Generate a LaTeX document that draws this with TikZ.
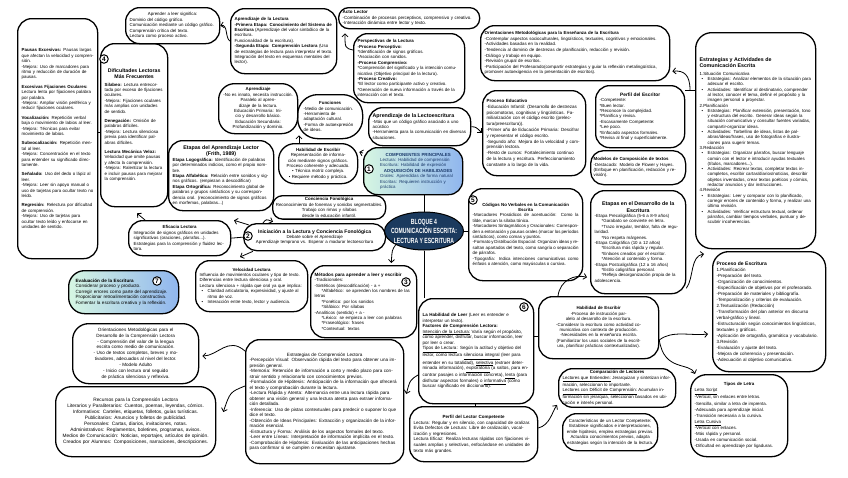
\documentclass[tikz,border=0pt]{standalone}
\usepackage{fontspec}
\setmainfont{Liberation Sans}
\usepackage{graphicx}
\usetikzlibrary{arrows.meta,shapes.geometric,calc}
\definecolor{navyb}{HTML}{1B3A5E}
\definecolor{mintc}{HTML}{D6F6E2}
\definecolor{skyc}{HTML}{90B6EE}
\definecolor{dtext}{HTML}{1B3A6B}
\newcommand{\mytxt}{\fontsize{4.4}{5.4}\selectfont}
\newcommand{\myfs}[2]{\fontsize{#1}{#2}\selectfont}
\newcommand{\ctr}[1]{{\centering #1\par}}
\newcommand{\pgap}{\par\vspace{4pt}}
\newcommand{\bul}[1]{\par{\hangindent=8pt\hangafter=1\noindent\hbox to 8pt{\hskip2pt\textbullet\hfil}#1\par}}
\newcommand{\myind}{\hspace*{7pt}}
\begin{document}
\begin{tikzpicture}[x=1pt,y=-1pt,
 bx/.style={draw, line width=1.3pt, rounded corners=11pt, inner xsep=4pt, inner ysep=2pt, font=\mytxt, align=left, anchor=north west},
 arr/.style={-{Straight Barb[length=3pt,width=6pt]}, line width=0.8pt},
 lnk/.style={line width=0.8pt},
 numc/.style={circle, draw, line width=1pt, fill=white, inner sep=0pt, minimum size=8.5pt, font=\myfs{6.5}{6.5}\bfseries},
]
\fill[white] (0,0) rectangle (848,477);
\useasboundingbox (0,0) rectangle (848,477);

% ---------- left column ----------
\node[bx, text width=86pt, minimum height=36pt, rounded corners=14pt] (aprender) at (125,7) {\ctr{Aprender a leer significa:}Dominio del código gráfico.\par Comunicación mediante un código gráfico.\par Comprensión crítica del texto.\par Lectura como proceso activo.};

\node[bx, text width=72pt, minimum height=240pt, rounded corners=14pt] (pausas) at (17,18) {\textbf{Pausas Excesivas:} Pausas largas que afectan la velocidad y comprensión.\par -Mejora: Uso de marcadores para ritmo y reducción de duración de pausas.\pgap
\textbf{Excesivas Fijaciones Oculares:} Lectura lenta por fijaciones palabra por palabra.\par -Mejora: Ampliar visión periférica y reducir fijaciones oculares.\pgap
\textbf{Vocalización:} Repetición verbal baja o movimiento de labios al leer.\par -Mejora: Técnicas para evitar movimiento de labios.\pgap
\textbf{Subvocalización:} Repetición mental al leer.\par -Mejora: Concentración en el texto para entender su significado directamente.\pgap
\textbf{Señalado:} Uso del dedo o lápiz al leer.\par -Mejora: Leer sin apoyo manual o uso de tarjetas para ocultar texto no leído.\pgap
\textbf{Regresión:} Relectura por dificultad de comprensión.\par -Mejora: Uso de tarjetas para ocultar texto leído y enfocarse en unidades de sentido.};

\node[bx, text width=59pt, minimum height=163pt, rounded corners=14pt] (dificultades) at (100,43) {\ctr{\myfs{5.2}{6}\bfseries Dificultades Lectoras\\Más Frecuentes}\vspace{2pt}
\textbf{Silabeo:} Lectura entrecortada por exceso de fijaciones oculares.\par -Mejora: Fijaciones oculares más amplias con unidades de sentido.\pgap
\textbf{Denegación:} Omisión de palabras difíciles.\par -Mejora: Lectura silenciosa previa para identificar palabras difíciles.\pgap
\textbf{Lectura Mecánica Veloz:} Velocidad que omite pausas y afecta la comprensión.\par -Mejora: Ralentizar la lectura e incluir pausas para mejorar la comprensión.};

\node[bx, text width=97pt, minimum height=70pt, rounded corners=14pt] (etapaslector) at (168,140) {\ctr{\myfs{5.3}{6.2}\bfseries Etapas del Aprendizaje Lector\\(Frith, 1989)}
\textbf{Etapa Logográfica:} Identificación de palabras por determinados indicios, como el propio nombre.\par
\textbf{Etapa Alfabética:} Relación entre sonidos y signos gráficos. (empiezan a descodificar)\par
\textbf{Etapa Ortográfica:} Reconocimiento global de palabras y grupos sintácticos y su correspondencia oral. (reconocimiento de signos gráficos en morfemas, palabras...)};

\node[bx, text width=92pt, inner xsep=5pt, minimum height=35pt, rounded corners=14pt] (eficacia) at (128,220) {\ctr{\textbf{Eficacia Lectora}}Integración de signos gráficos en unidades significativas (oraciones, párrafos...).\par Estrategias para la comprensión y fluidez lectora.};

\node[bx, text width=96pt, inner xsep=7pt, minimum height=43pt, rounded corners=16pt, left color=mintc, right color=skyc, font=\myfs{4.6}{5.6}] (evaluacion) at (68,270) {\textbf{Evaluación de la Escritura}\par Considerar proceso y producto.\par Corregir errores como parte del aprendizaje.\par Proporcionar retroalimentación constructiva.\par Fomentar la escritura creativa y la reflexión.};

\node[bx, text width=100pt, inner xsep=13pt, minimum height=60pt, rounded corners=16pt, align=center, font=\myfs{4.6}{5.9}] (orientlect) at (72,323) {Orientaciones Metodológicas para el Desarrollo de la Comprensión Lectora\par - Comprensión del valor de la lengua escrita como medio de comunicación.\par - Uso de textos completos, breves y motivadores, adecuados al nivel del lector.\par - Modelo Adulto\par - Inicio con lectura oral seguido de práctica silenciosa y reflexiva.};

\node[bx, text width=150pt, inner xsep=5pt, minimum height=70pt, rounded corners=16pt, align=center, font=\myfs{4.8}{6}] (recursos) at (55,386) {Recursos para la Comprensión Lectora\par Literarios y Paraliterarios: Cuentos, poemas, leyendas, cómics.\par Informativos: Carteles, etiquetas, folletos, guías turísticas.\par Publicitarios: Anuncios y folletos de publicidad.\par Personales: Cartas, diarios, invitaciones, notas.\par Administrativos: Reglamentos, boletines, programas, avisos.\par Medios de Comunicación: Noticias, reportajes, artículos de opinión.\par Creados por Alumnos: Composiciones, narraciones, descripciones.};

% ---------- centre-left ----------
\node[bx, text width=98pt, minimum height=65pt, rounded corners=14pt] (aprlectura) at (230,8) {\textbf{Aprendizaje de la Lectura}\par \textbf{-Primera Etapa: Conocimiento del Sistema de Escritura} (Aprendizaje del valor simbólico de la escritura.\par Funcionalidad de la escritura).\par \textbf{-Segunda Etapa: Comprensión Lectora} (Uso de estrategias de lectura para interpretar el texto.\par Integración del texto en esquemas mentales del lector).};

\node[bx, text width=71pt, minimum height=50pt, rounded corners=16pt, align=center] (aprendizaje) at (218,83) {\textbf{Aprendizaje}\par -No es innato, necesita instrucción.\par Paralelo al aprendizaje de la lectura.\par Educación Primaria: Inicio y desarrollo básico.\par Educación Secundaria: Profundización y dominio.};

\node[bx, text width=53pt, inner xsep=6pt, minimum height=44pt, rounded corners=20pt] (funciones) at (297,94) {\ctr{\textbf{Funciones}}-Medio de comunicación.\par -Herramienta de adaptación cultural.\par -Forma de autoexpresión de ideas.};

\node[bx, text width=71pt, minimum height=40pt, rounded corners=16pt, align=center] (habesc1) at (278,143) {\textbf{Habilidad de Escribir}\par Representación de información mediante signos gráficos.\par Proceso coherente y adecuado.\par \textbullet\ Técnica motriz compleja.\par \textbullet\ Requiere método y práctica.};

\node[bx, text width=107pt, inner xsep=3pt, minimum height=21pt, rounded corners=10pt, align=center] (conciencia) at (272,195) {\textbf{Conciencia Fonológica}\par Reconocimiento de fonemas y sonidos segmentables.\par Trabajo con rimas y sílabas desde la educación infantil.};

\node[bx, text width=130pt, inner xsep=6pt, minimum height=27pt, rounded corners=13pt, align=center] (iniciacion) at (243,223) {{\myfs{5}{6}\bfseries Iniciación a la Lectura y Conciencia Fonológica}\par Debate sobre el Aprendizaje\par Aprendizaje temprano vs. Esperar a madurar lectoescritura};

\node[bx, text width=104pt, minimum height=51pt, rounded corners=14pt] (velocidad) at (195,260) {\ctr{\textbf{Velocidad Lectora}}Influencia de movimientos oculares y tipo de texto.\par Diferencias entre lectura silenciosa y oral.\par Lectura silenciosa + rápida que oral ya que implica:\bul{Claridad articulatoria, expresividad, y ajuste al ritmo de voz.}\bul{Interacción entre texto, lector y audiencia.}};

\node[bx, text width=98pt, minimum height=72pt, rounded corners=14pt] (metodos) at (310,265) {{\myfs{4.6}{5.6}\bfseries Métodos para aprender a leer y escribir\par}-Tradicionales:\par -Sintéticos (descodificación) - a +\par \myind*Alfabético: se aprenden los nombres de las letras\par \myind*Fonético: por los sonidos\par \myind*Silábico: Por sílabas\par -Analíticos (sentido) + a -\par \myind*Léxico: se empieza a leer con palabras\par \myind*Fraseológico: frases\par \myind*Contextual: textos};

\node[bx, text width=150pt, minimum height=124pt, rounded corners=14pt, font=\myfs{4.6}{5.5}] (estrcomp) at (245,339) {\ctr{Estrategias de Comprensión Lectora}-Percepción Visual: Observación rápida del texto para obtener una impresión general.\par -Memoria: Retención de información a corto y medio plazo para construir sentido y relacionarlo con conocimientos previos.\par -Formulación de Hipótesis: Anticipación de la información que ofrecerá el texto y comprobación durante la lectura.\par -Lectura Rápida y Atenta: Alternancia entre una lectura rápida para obtener una visión general y una lectura atenta para extraer información detallada.\par -Inferencia: Uso de pistas contextuales para predecir o suponer lo que dice el texto.\par -Obtención de Ideas Principales: Extracción y organización de la información esencial.\par -Estructura y Forma: Análisis de los aspectos formales del texto.\par -Leer entre Líneas: Interpretación de información implícita en el texto.\par -Comprobación de Hipótesis: Evaluación de las anticipaciones hechas para confirmar si se cumplen o necesitan ajustarse.};

% ---------- centre ----------
\node[bx, text width=133pt, minimum height=21pt, rounded corners=10pt, font=\myfs{4.5}{5.4}] (acto) at (338,7) {\textbf{Acto Lector}\par -Combinación de procesos perceptivos, comprensivo y creativo.\par -Interacción dinámica entre lector y texto.};

\node[bx, text width=103pt, minimum height=69pt, rounded corners=14pt] (perspectivas) at (353,33) {\textbf{Perspectivas de la Lectura}\par \textbf{-Proceso Perceptivo:}\par *Identificación de signos gráficos.\par *Asociación con sonidos.\par \textbf{-Proceso Comprensivo:}\par *Comprensión del significado y la intención comunicativa (Objetivo principal de la lectura).\par \textbf{-Proceso Creativo:}\par *El lector como participante activo y creativo.\par *Generación de nueva información a través de la interacción con el texto.};

\node[bx, text width=94pt, minimum height=38pt, rounded corners=14pt] (lectoescritura) at (368,107) {{\myfs{5.3}{6.3}\bfseries Aprendizaje de la Lectoescritura\par}-Más que un código gráfico asociado a uno acústico\par -Herramienta para la comunicación en diversas situaciones.};

\node[bx, minimum width=99pt, minimum height=47pt, rounded corners=14pt, left color=mintc, right color=skyc] (componentes) at (363,147) {};
\node[font=\mytxt, text=dtext, text width=76pt, align=left, inner sep=0pt, anchor=west] (componentesT) at ($(componentes.west)+(17,0)$) {\ctr{\bfseries COMPONENTES PRINCIPALES}Lectura: Habilidad de comprensión\par Escritura: Habilidad de expresión\par \ctr{\bfseries ADQUISICIÓN DE HABILIDADES}Orales: Aprendidas de forma natural\par Escritas: Requieren instrucción y práctica};

\node[ellipse, draw=black, line width=1pt, fill=navyb, minimum width=79pt, minimum height=38pt, inner sep=0pt] (bloque) at (424,231) {};
\node[align=center, text=white, font=\myfs{7.5}{9.5}\bfseries, inner sep=0pt] (bloqueT) at (424,231) {\scalebox{0.68}[1]{BLOQUE 4}\\\scalebox{0.68}[1]{COMUNICACIÓN ESCRITA:}\\\scalebox{0.68}[1]{LECTURA Y ESCRITURA}};

\node[bx, text width=106pt, minimum height=92pt, rounded corners=14pt, align=justify] (codigos) at (468,188) {\ctr{\textbf{Códigos No Verbales en la Comunicación\\Escrita}}-Marcadores Prosódicos de acentuación: Como la tilde, marcan la sílaba tónica.\par -Marcadores Sintagmáticos y Oracionales: Corresponden a entonación y pausas orales (marcar los períodos sintácticos), como comas y puntos.\par -Formato y Distribución Espacial: Organizan ideas y resaltan apartados del texto, como sangría o separación de párrafos.\par -Tipografía: Indica intenciones comunicativas como énfasis o atención, como mayúsculas o cursiva.};

\node[bx, text width=107pt, minimum height=105pt, rounded corners=14pt, font=\myfs{4.5}{5.5}] (hableer) at (418,298) {\textbf{La Habilidad de Leer} (Leer es entender e\\interpretar un texto).\par \textbf{Factores de Comprensión Lectora:}\par \underline{Intención de la Lectura:} Varía según el propósito, como aprender, disfrutar, buscar información, leer por leer o crear.\par \underline{Tipos de Lectura}: Según la actitud y objetivo del lector, como lectura \underline{silenciosa integral} (leer para entender en su totalidad), \underline{selectiva} (extraer determinada información), \underline{exploratoria} (a saltos, para encontrar pasajes o información concreta), \underline{lenta} (para disfrutar aspectos formales) o \underline{informativa} (como buscar significado en diccionario).};

\node[bx, text width=120pt, minimum height=55pt, rounded corners=14pt, font=\myfs{4.5}{5.6}] (perfillector) at (409,406) {\ctr{\textbf{Perfil del Lector Competente}}Lectura: Regular y en silencio, con capacidad de oralizar.\par Evita Defectos de Lectura: Libre de oralización, vocalización y regresiones.\par Lectura Eficaz: Realiza lecturas rápidas con fijaciones visuales amplias y selectivas, enfocándose en unidades de texto más grandes.};

% ---------- centre-right ----------
\node[bx, text width=181pt, minimum height=55pt, rounded corners=14pt, font=\myfs{4.4}{5.6}] (orientesc) at (480,25) {\textbf{Orientaciones Metodológicas para la Enseñanza de la Escritura}\par -Contemplar aspectos socioculturales, lingüísticos, textuales, cognitivos y emocionales.\par -Actividades basadas en la realidad.\par -Tendencia al dominio de destrezas de planificación, redacción y revisión.\par -Diálogo y trabajo en equipo.\par -Revisión grupal de escritos.\par -Participación del Profesorado(compartir estrategias y guiar la reflexión metalingüística, promover autoexigencia en la presentación de escritos).};

\node[bx, text width=95pt, minimum height=85pt, rounded corners=14pt, font=\myfs{4.5}{5.8}] (procesoedu) at (482,90) {\textbf{Proceso Educativo}\par -Educación Infantil: (Desarrollo de destrezas psicomotoras, cognitivas y lingüísticas. Familiarización con el código escrito (prelectura/preescritura)).\par -Primer año de Educación Primaria: Descifrar y representar el código escrito.\par -Segundo año: Mejora de la velocidad y comprensión lectora.\par -Resto de cursos: Fortalecimiento continuo de la lectura y escritura. Perfeccionamiento constante a lo largo de la vida.};

\node[bx, text width=81pt, minimum height=62pt, rounded corners=14pt] (perfilesc) at (595,85) {\ctr{\myfs{4.8}{5.8}\bfseries Perfil del Escritor}-Competente:\par *Buen lector.\par *Reconoce la complejidad.\par *Planifica y revisa.\par -Escasamente Competente:\par *Lee poco.\par *Enfocado aspectos formales.\par *Revisa al final y superficialmente.};

\node[bx, text width=89pt, inner xsep=3pt, minimum height=34pt, rounded corners=13pt] (modelos) at (590,150) {\textbf{Modelos de Composición de textos}\par -Destacado: Modelo de Flower y Hayes.\par (Enfoque en planificación, redacción y revisión).};

\node[bx, text width=87pt, minimum height=103pt, rounded corners=14pt] (etapasdes) at (590,190) {\ctr{\myfs{5.3}{6.2}\bfseries Etapas en el Desarrollo de la\\Escritura}-Etapa Precaligráfica (5-6 a 8-9 años)\par \myind*Garabato se convierte en letra.\par \myind*Trazo irregular, temblor, falta de regularidad.\par \myind*No respeta márgenes.\par -Etapa Caligráfica (10 a 12 años)\par \myind*Escritura más rápida y regular.\par \myind*Enlaces creados por el escritor.\par \myind*Atención al contenido y forma.\par -Etapa Postcaligráfica (12 a 16 años)\par \myind*Estilo caligráfico personal.\par \myind*Refleja desorganización propia de la adolescencia.};

\node[bx, text width=112pt, minimum height=62pt, rounded corners=14pt, align=center] (habesc2) at (538,296) {\textbf{Habilidad de Escribir}\par -Proceso de instrucción paralelo al desarrollo de la escritura.\par -Considerar la escritura como actividad comunicativa con contexto de producción.\par -Necesidades en la enseñanza escrita.\par (Familiarizar los usos sociales de la escritura, planificar prácticas contextualizadas).};

\node[bx, text width=109pt, minimum height=38pt, rounded corners=14pt] (comparacion) at (558,368) {\ctr{\textbf{Comparación de Lectores}}\underline{Lectores que Entienden:} Jerarquizan y sintetizan información, seleccionan lo importante.\par \underline{Lectores con Déficit de Comprensión:} Acumulan información sin jerarquía, seleccionan basados en ubicación e interés personal.};

\node[bx, text width=87pt, minimum height=37pt, rounded corners=14pt, align=center] (caracteristicas) at (562,413) {Características de un Lector Competente:\par Establece significados e interpretaciones, emite hipótesis, emplea estrategias previas.\par Actualiza conocimientos previos, adapta estrategias según la intención de la lectura.};

% ---------- right column ----------
\node[bx, text width=112pt, minimum height=216pt, rounded corners=16pt, font=\myfs{4.4}{5.3}] (estrategias) at (695,32) {{\myfs{5.3}{6.4}\bfseries Estrategias y Actividades de\\Comunicación Escrita\par}\vspace{2pt}1.Situación Comunicativa
\bul{Estrategias: Analizar elementos de la situación para adecuar el escrito.}
\bul{Actividades: Identificar al destinatario, comprender al lector, conocer el tema, definir el propósito y la imagen personal a proyectar.}
2.Planificación
\bul{Estrategias: Planificar extensión, presentación, tono y estructura del escrito. Generar ideas según la situación comunicativa y consultar fuentes variadas, compartir-organizar ideas.}
\bul{Actividades: Torbellino de ideas, listas de palabras/ideas/frases, uso de fotografías e ilustraciones para sugerir temas.}
3.Redacción
\bul{Estrategias: Organizar párrafos, buscar lenguaje común con el lector e introducir ayudas textuales (títulos, marcadores...).}
\bul{Actividades: Recrear textos, completar textos incompletos, escribir cartas/diarios/noticias, describir objetos inventados, crear textos poéticos y cómics, redactar anuncios y dar instrucciones.}
4.Revisión
\bul{Estrategias: Leer y comparar con lo planificado, corregir errores de contenido y forma, y realizar una última revisión.}
\bul{Actividades: Verificar estructura textual, ordenar párrafos, cambiar tiempos verbales, puntuar y descubrir incoherencias.}};

\node[bx, text width=105pt, minimum height=120pt, rounded corners=16pt, font=\myfs{4.5}{6}] (procesoesc) at (712,251) {{\myfs{5}{6.2}\bfseries Proceso de Escritura\par}1.Planificación\par -Preparación del texto.\par -Organización de conocimientos.\par -Especificación de objetivos por el profesorado.\par -Preparación de materiales y bibliografía.\par -Temporalización y criterios de evaluación.\par 2.Textualización (Redacción)\par -Transformación del plan anterior en discurso verbal-gráfico y lineal.\par -Estructuración según conocimientos lingüísticos, textuales y gráficos.\par -Aplicación de ortografía, gramática y vocabulario.\par 3.Revisión\par -Evaluación y ajuste del texto.\par -Mejora de coherencia y presentación.\par -Adecuación al objetivo comunicativo.};

\node[bx, text width=89pt, minimum height=82pt, rounded corners=16pt, font=\myfs{4.4}{6.1}] (tipos) at (690,374) {\ctr{\textbf{Tipos de Letra}}\underline{Letra Script}\par -Vertical, sin enlaces entre letras.\par -Sencilla, similar a letra de imprenta.\par -Adecuada para aprendizaje inicial.\par -Transición necesaria a la cursiva.\par \underline{Letra Cursiva}\par -Vertical con enlaces.\par -Más rápida y personal.\par -Usada en comunicación social.\par -Dificultad en aprendizaje por ligaduras.};

% ---------- numbered circles ----------
\node[numc] (n1) at (369,169) {1};
\node[numc] (n2) at (248,236) {2};
\node[numc] (n3) at (406,282) {3};
\node[numc] (n4) at (104,59) {4};
\node[numc] (n5) at (473,200) {5};
\node[numc] (n6) at (524,307) {6};
\node[numc] (n7) at (157,281) {7};

% ---------- connectors ----------
\draw[arr] (aprlectura.west) .. controls (225,38) and (228,24) .. (aprender.east);
\draw[arr] ($(perspectivas.north west)+(0,17)$) .. controls (345,48) .. ($(acto.south west)+(7,4)$);
\draw[lnk] ($(pausas.north east)+(0,114)$) -- ($(dificultades.north west)+(0,89)$);
\draw[arr] ($(eficacia.north west)+(17,0)$) -- ($(dificultades.south west)+(37,6)$);
\draw[arr] ($(habesc1.north west)+(21,0)$) -- ($(funciones.south west)+(2,-4)$);
\draw[arr] ($(componentes.north west)+(0,6)$) -- ($(habesc1.north east)+(1,9)$);
\draw[arr] (lectoescritura.east) .. controls (476,127) .. ($(procesoedu.north west)+(0,43)$);
\draw[lnk] (componentes.south -| bloque.north) -- (bloque.north);
\draw[lnk] (bloque.south) -- (bloque.south |- hableer.north);
\draw[lnk] (bloque.east) -- (bloque.east -| codigos.west);
\draw[lnk] (bloque.west) -- (iniciacion.east);
\draw[arr] (bloque.south west) .. controls (392,250) .. ($(metodos.north east)+(-26,-2)$);
\draw[arr] ($(iniciacion.north west)+(6,2)$) -- ($(etapaslector.south west)+(66,9)$);
\draw[arr] ($(iniciacion.north west)+(20,0)$) .. controls (266,219) .. ($(conciencia.south west)+(1,2)$);
\draw[arr] ($(iniciacion.south west)+(10,0)$) -- ($(velocidad.north west)+(45,-3)$);
\draw[lnk] (eficacia.east) -- (iniciacion.west);
\coordinate (j1) at (690,90);
\draw[lnk] ($(perfilesc.north east)+(0,5)$) -- ($(estrategias.north west)+(0,58)$);
\draw[arr] (j1) .. controls (690,75) and (684,70) .. ($(orientesc.south east)+(2,-10)$);
\draw[arr] ($(etapasdes.south east)+(0,-6)$) .. controls (694,278) and (690,256) .. ($(procesoesc.north west)+(-8,3)$);
\draw[arr] ($(habesc2.north west)+(20,0)$) .. controls (560,280) and (575,274) .. ($(etapasdes.south west)+(-3,-17)$);
\draw[arr] ($(habesc2.north east)+(0,44)$) .. controls (672,330) and (690,336) .. ($(procesoesc.north west)+(-4,83)$);
\draw[arr] ($(habesc2.north east)+(0,44)$) .. controls (664,372) and (690,362) .. ($(tipos.north west)+(5,0)$);
\draw[lnk] ($(hableer.north east)+(0,38)$) -- ($(habesc2.north west)+(0,40)$);
\draw[lnk] ($(hableer.south west)+(57,0)$) -- ($(perfillector.north west)+(66,0)$);
\draw[arr] ($(perfillector.north east)+(0,22)$) .. controls (550,425) and (552,412) .. ($(comparacion.south west)+(-1,-3)$);
\draw[arr] ($(hableer.north west)+(0,77)$) .. controls (410,380) .. ($(estrcomp.north east)+(2,55)$);
\draw[arr] ($(estrcomp.north west)+(0,12)$) .. controls (228,336) and (218,356) .. ($(orientlect.north east)+(3,33)$);
\draw[arr] ($(estrcomp.north west)+(0,47)$) .. controls (230,392) .. ($(recursos.north east)+(7,26)$);
\end{tikzpicture}
\end{document}
